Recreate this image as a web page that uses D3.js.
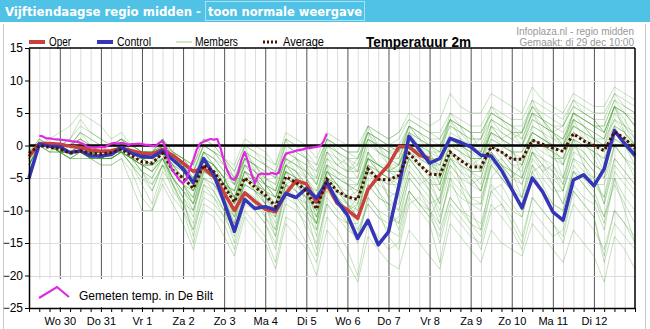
<!DOCTYPE html>
<html>
<head>
<meta charset="utf-8">
<script src="https://cdn.jsdelivr.net/npm/d3@7/dist/d3.min.js"></script>
<style>
  body { margin: 0; background: #fff; }
  svg { display: block; }
  text { font-family: "Liberation Sans", Arial, sans-serif; }
</style>
</head>
<body>
<div id="chart"></div>
<script>
// dagen (labels op middernacht), stappen van 6 uur vanaf di 29 dec 06:00
const dagLabels = ["Wo 30", "Do 31", "Vr 1", "Za 2", "Zo 3", "Ma 4", "Di 5",
                   "Wo 6", "Do 7", "Vr 8", "Za 9", "Zo 10", "Ma 11", "Di 12"];
const yTicks = [15, 10, 5, 0, -5, -10, -15, -20, -25];

// operationele run (8 dagen)
const oper = [-1.7, 0.3, 0.3, 0.2, -0.1, -0.3, -0.7, -0.9, -0.8, -0.4, -0.8, -1.2, -1.3, -0.6,
  -1.5, -2.7, -4.0, -3.5, -4.8, -7.3, -10.0, -7.3, -8.6, -9.8, -10.2, -7.4, -5.4, -5.9,
  -8.7, -6.0, -8.9, -9.9, -11.2, -6.8, -4.8, -3.0, -0.2, -0.2, -1.5, -2.0];

const control = [-5.0, 0.2, -0.1, -0.2, -1.1, -0.8, -1.6, -1.6, -1.4, -0.3,
  -1.2, -1.7, -1.8, -0.8, -2.2, -3.6, -5.7, -2.0, -4.5, -8.8,
  -13.2, -8.3, -9.7, -9.4, -9.9, -7.4, -8.0, -6.6, -8.1, -5.6,
  -8.6, -10.7, -14.3, -11.5, -15.3, -13.3, -6.3, 1.4, -0.6, -2.7,
  -2.0, 1.1, 0.5, -0.2, -1.5, -1.6, -3.8, -6.7, -9.6, -5.0,
  -7.1, -10.2, -11.5, -5.3, -4.5, -6.2, -3.6, 2.3, 0.3, -1.5];

const gemiddelde = [-1.2, 0.0, -0.3, -0.5, -1.2, -0.8, -1.2, -1.3, -1.1, -0.6,
  -1.6, -2.5, -2.7, -1.2, -3.8, -5.0, -6.6, -3.0, -4.0, -6.3,
  -8.7, -5.0, -6.4, -7.6, -9.4, -4.8, -5.7, -7.0, -9.8, -5.2,
  -7.0, -7.9, -8.3, -3.6, -5.2, -5.3, -4.6, -1.2, -2.9, -4.4,
  -4.5, -1.0, -2.3, -3.3, -3.3, -0.2, -1.0, -2.1, -2.1, 0.8,
  0.2, -0.4, -0.9, 1.8, 0.7, 0.0, -0.8, 2.1, 1.1, -0.5];

// gemeten temperatuur De Bilt, elke 2 uur vanaf uur 6
const gemetenStart = 6, gemetenStap = 2;
const gemeten = [1.5, 1.4, 1.1, 1.1, 1.0, 0.95, 0.9, 0.85, 0.8, 0.7, 0.6, 0.6, 0.4, 0.2,
  -0.2, -0.3, -0.3, -0.3, -0.2, -0.3, 0.0, 0.3, 0.4, 0.3, 0.4, 0.3, 0.1, 0.2, 0.2, 0.3,
  0.2, 0.1, 0.1, -0.1, -0.1, 0.4, 0.7, -0.5, -2.7, -3.9, -4.6, -5.4, -5.8, -5.2, -3.5,
  -2.2, -0.6, 0.3, 0.6, 0.8, 1.0, 0.9, 1.0, -0.5, -2.5, -4.0, -5.0, -5.3, -4.4, -2.3,
  -1.0, -2.5, -4.5, -5.8, -4.5, -4.3, -4.4, -4.4, -4.2, -4.4, -4.2, -2.5, -1.3, -1.1,
  -1.0, -0.8, -0.7, -0.6, -0.4, -0.4, -0.3, -0.2, -0.1, 0.6, 1.8];

// ensemble leden
const leden = [
  [-2,0,0,0, -1,0,-1,-1, -1,0,-1,-2, -2,-1,-3,-4, -5,-2,-3,-5, -7,-3,-4,-6, -7,-3,-4,-5, -7,-3,-4,-5, -6,-2,-3,-3, -3,0,-1,-2, -2,1,0,-1, -1,2,1,0, 0,3,2,1, 1,4,3,2, 1,4,3,2],
  [-4,0,-1,-1, -2,-1,-2,-2, -2,-1,-2,-4, -5,-2,-6,-9, -12,-6,-7,-10, -13,-8,-10,-12, -15,-9,-10,-12, -15,-9,-11,-13, -14,-8,-10,-11, -12,-7,-9,-10, -13,-8,-10,-11, -12,-6,-8,-10, -11,-5,-7,-9, -10,-4,-6,-8, -12,-5,-8,-10],
  [-1,0,0,0, 1,4,2,1, 0,1,-1,-1, -1,0,-2,-3, -4,-1,-2,-3, -5,-2,-3,-4, -5,-1,-2,-3, -4,0,-1,-2, -2,1,0,-1, 0,3,2,1, 1,4,3,2, 2,5,4,3, 3,6,4,3, 2,5,4,3, 3,7,5,4],
  [-3,0,0,-1, -1,-1,-2,-2, -2,-1,-3,-6, -9,-4,-6,-8, -11,-4,-5,-8, -12,-5,-6,-9, -13,-6,-7,-9, -14,-6,-8,-10, -11,-4,-6,-7, -8,-2,-4,-6, -9,-3,-5,-6, -7,-1,-3,-4, -5,0,-1,-2, -3,1,0,-1, -4,1,0,-2],
  [-2,0,0,0, 0,2,1,0, 0,1,0,-1, -1,0,-1,-2, -3,0,-1,-2, -4,0,-1,-2, -3,1,0,-1, -3,1,0,-1, -2,2,1,0, -1,2,1,0, 0,3,2,1, 1,4,3,2, 2,5,4,3, 3,6,5,4, 4,8,6,5],
  [-5,0,-1,-1, -2,-2,-2,-3, -3,-2,-4,-8, -10,-6,-9,-12, -16,-10,-11,-14, -17,-11,-13,-15, -19,-12,-14,-16, -20,-13,-15,-18, -21,-14,-16,-18, -19,-13,-15,-17, -19,-12,-14,-16, -18,-13,-15,-16, -17,-12,-14,-16, -18,-13,-15,-17, -21,-14,-16,-19],
  [-5,0,0,0, -1,-1,-2,-2, -1,0,-2,-2, -2,-1,-4,-6, -9,-3,-5,-8, -12,-7,-8,-10, -10,-6,-7,-8, -9,-5,-7,-9, -13,-9,-11,-13, -14,-7,-9,-11, -8,-2,-4,-6, -5,0,-2,-4, -8,-3,-6,-9, -10,-4,-5,-6, -6,0,-2,-4],
  [-1,1,0,0, 1,3,2,1, 0,1,0,-1, -1,1,-1,-2, -3,1,0,-2, -4,0,-1,-3, -4,1,0,-2, -5,0,-1,-2, -3,2,1,0, -1,3,2,0, -2,2,1,0, 0,4,3,2, 1,5,3,2, 0,4,3,1, 0,5,3,1],
  [-2,0,-1,-1, -1,-1,-1,-2, -2,-1,-2,-3, -4,-2,-5,-7, -8,-3,-4,-7, -10,-5,-6,-8, -11,-5,-6,-8, -12,-6,-7,-8, -9,-3,-5,-6, -6,-1,-3,-5, -7,-2,-3,-4, -5,0,-1,-3, -4,1,0,-1, -2,2,1,0, -1,3,2,0],
  [-3,0,0,-1, -1,-1,-1,-2, -1,-1,-2,-3, -3,-1,-5,-8, -14,-7,-8,-10, -15,-9,-10,-12, -16,-8,-9,-11, -13,-6,-8,-9, -10,-4,-5,-6, -5,0,-1,-2, -3,1,0,-1, -2,2,1,0, 0,4,3,2, 1,5,4,3, 2,6,5,3],
  [-2,0,0,-1, -1,-1,-1,-1, -1,0,-1,-2, -3,-1,-3,-4, -6,-2,-3,-5, -8,-4,-5,-6, -8,-3,-4,-6, -9,-4,-5,-6, -7,-2,-3,-4, -4,0,-2,-3, -4,0,-1,-2, -2,1,0,-1, -1,2,1,0, 0,3,2,1, -1,2,1,-1],
  [-1,0,1,2, 3,5,4,3, 1,2,0,-1, -1,1,-1,-2, -4,0,-1,-3, -6,-2,-3,-5, -6,-2,-3,-4, -6,-1,-3,-4, -4,1,0,-1, -2,2,1,0, -1,3,2,1, 1,5,4,3, 2,6,5,4, 3,7,5,4, 2,6,5,3],
  [-2,0,0,0, 0,1,0,-1, -1,0,-1,-2, -2,0,-2,-3, -5,-1,-2,-4, -6,-2,-3,-4, -5,0,-1,-2, -4,1,0,-1, -1,3,2,1, 2,5,4,3, 4,8,6,5, 5,8,7,6, 5,9,7,6, 5,8,7,6, 6,9,8,7],
  [-3,0,0,-1, -2,-1,-2,-2, -2,-1,-3,-5, -6,-3,-7,-9, -10,-5,-6,-8, -11,-6,-7,-9, -12,-6,-8,-10, -16,-8,-10,-12, -12,-6,-8,-9, -10,-4,-6,-8, -12,-5,-7,-9, -9,-3,-5,-7, -8,-2,-4,-6, -9,-3,-5,-7, -11,-4,-6,-8],
  [-1,1,0,0, -1,0,-1,-1, 0,1,-1,-2, -2,0,-2,-4, -7,-2,-3,-5, -8,-3,-5,-6, -7,-2,-3,-5, -8,-2,-4,-5, -5,0,-1,-2, -3,1,0,-1, -5,-1,-2,-3, -3,1,0,-1, -2,2,1,0, -3,1,0,-1, -2,2,1,0],
  [-4,0,0,-1, -1,-1,-2,-2, -1,-1,-2,-3, -4,-2,-4,-6, -7,-2,-4,-7, -11,-6,-7,-8, -10,-4,-5,-7, -11,-5,-7,-8, -8,-2,-4,-5, -7,-2,-4,-6, -6,-1,-3,-4, -6,-1,-3,-5, -3,1,0,-1, -5,0,-1,-3, -4,1,0,-2],
  [-2,0,0,0, -1,0,-1,-1, -1,0,-1,-2, -3,-1,-4,-6, -8,-3,-4,-6, -9,-4,-5,-7, -9,-4,-5,-7, -9,-4,-6,-8, -10,-5,-7,-9, -13,-7,-9,-11, -14,-8,-10,-12, -13,-7,-9,-11, -14,-8,-10,-12, -15,-9,-11,-13, -16,-10,-12,-14],
  [-1,0,0,-1, 0,1,0,-1, -1,0,-1,-1, -2,0,-2,-3, -4,0,-1,-3, -5,-1,-2,-3, -5,-1,-2,-3, -6,-1,-2,-3, -4,1,0,-1, -1,3,2,1, 0,4,3,2, -1,3,2,1, 0,4,3,2, 1,5,4,3, 3,7,6,5],
  [-3,0,0,-1, -2,-1,-2,-2, -2,-1,-2,-4, -7,-3,-6,-9, -13,-8,-9,-11, -14,-8,-9,-11, -13,-7,-8,-10, -12,-6,-8,-10, -8,-3,-4,-5, -6,-2,-3,-4, -7,-2,-4,-5, -7,-2,-3,-5, -6,-1,-3,-4, -7,-2,-3,-5, -9,-3,-5,-7],
  [-2,0,0,0, -1,0,-1,-1, -1,0,-1,-1, -1,1,-1,-2, -4,0,-1,-2, -5,-1,-2,-3, -4,0,-1,-2, -3,1,0,-1, -1,2,1,0, 1,4,3,2, 2,5,4,3, 3,6,5,4, 4,7,6,5, 4,7,6,5, 5,8,7,6],
  [-3,0,0,-1, -2,-2,-2,-3, -3,-2,-6,-10, -10,-5,-8,-10, -15,-9,-10,-12, -16,-10,-12,-14, -18,-11,-12,-15, -18,-11,-13,-16, -20,-12,-14,-16, -15,-8,-10,-12, -18,-10,-12,-14, -15,-9,-11,-13, -16,-10,-12,-14, -13,-7,-9,-11, -18,-12,-14,-16],
  [-2,0,0,-1, -1,-1,-1,-2, -1,-1,-2,-3, -3,-1,-4,-5, -6,-2,-3,-5, -9,-5,-6,-7, -8,-4,-5,-6, -10,-5,-6,-7, -6,-2,-4,-5, -5,-1,-2,-3, -3,1,0,-1, -4,0,-1,-2, -2,2,1,0, -1,3,2,1, 0,4,2,0],
  [-2,0,0,0, 0,0,-1,-1, -1,0,-1,-2, -2,-1,-3,-5, -7,-3,-4,-6, -7,-3,-5,-7, -10,-5,-6,-8, -9,-4,-5,-6, -6,-1,-3,-4, -4,0,-1,-2, -6,-1,-2,-4, -4,0,-1,-2, -3,1,0,-1, -2,2,1,0, -3,2,0,-1],
  [-3,0,0,-1, -1,-1,-1,-2, -1,-1,-2,-4, -5,-2,-5,-7, -9,-4,-5,-7, -10,-5,-7,-9, -11,-5,-6,-8, -10,-5,-7,-9, -11,-6,-8,-9, -9,-3,-5,-7, -10,-4,-6,-8, -8,-3,-5,-7, -9,-3,-5,-7, -7,-2,-4,-5, -8,-2,-4,-6],
  [-1,0,0,0, 0,2,1,0, 0,1,0,-1, -1,0,-1,-2, -3,1,0,-2, -3,1,0,-1, -3,2,1,0, -2,2,1,0, 0,3,2,1, 2,4,3,2, 1,4,3,2, 2,5,4,3, 1,5,4,2, 3,6,5,4, 2,6,5,3],
  [-4,0,0,-1, -1,-1,-1,-2, -2,-1,-2,-3, -4,-2,-5,-7, -10,-5,-6,-8, -9,-4,-6,-8, -9,-3,-5,-7, -11,-4,-6,-8, -7,-1,-3,-4, -3,1,0,-1, -4,0,-1,-2, -2,2,1,0, -5,-1,-2,-3, -6,-1,-2,-4, -5,0,-2,-3],
  [-2,0,0,-1, -1,-1,-1,-1, -1,-1,-2,-3, -3,-2,-4,-6, -7,-3,-4,-6, -8,-4,-6,-7, -9,-4,-5,-7, -10,-4,-6,-8, -8,-3,-4,-5, -5,-1,-3,-4, -5,-1,-2,-4, -4,0,-1,-3, -3,1,0,-2, -2,2,1,-1, -2,2,1,-1],
  [-3,0,0,0, -1,0,-1,-1, -1,0,-2,-2, -3,-1,-3,-5, -6,-2,-3,-5, -8,-4,-5,-7, -8,-3,-5,-6, -8,-3,-5,-6, -7,-2,-3,-4, -3,1,-1,-2, -3,1,0,-2, -2,2,0,-1, -1,2,1,0, 0,3,2,0, 0,3,2,0],
  [-2,0,0,-1, -1,0,-1,-2, -1,0,-1,-2, -3,-2,-5,-8, -10,-4,-3,-6, -9,-2,-5,-9, -14,-6,-5,-9, -12,-3,-8,-12, -9,-1,-4,-8, -10,-4,-6,-5, -9,-1,-6,-10, -13,-5,-3,-6, -8,-1,-4,-3, -5,1,-3,-6, -8,0,-2,-5],
  [-3,1,0,0, 0,1,-1,-1, -2,0,0,-1, -2,1,-2,-3, -6,-1,-3,-6, -7,0,-4,-5, -6,1,-2,-5, -8,-1,-3,-2, -4,3,0,-3, -5,0,-3,-1, -2,4,1,-2, -4,3,1,2, 0,5,2,-1, -3,4,3,2, 1,6,2,-2],
  [-4,0,-1,0, -1,-1,-1,-2, -1,-1,-3,-4, -6,-3,-4,-6, -9,-5,-7,-10, -13,-7,-9,-10, -11,-6,-9,-13, -17,-9,-11,-12, -15,-8,-10,-14, -16,-9,-8,-10, -12,-5,-9,-12, -14,-7,-6,-9, -11,-4,-7,-10, -12,-6,-8,-9, -13,-5,-10,-15],
  [-2,0,0,0, 0,2,0,0, 0,1,-1,-1, -1,1,-2,-3, -5,-2,-4,-6, -7,-2,-3,-6, -8,-3,-2,-4, -6,0,-2,-4, -3,2,-1,-3, -4,2,0,-2, -5,1,-1,-3, -2,3,1,-1, -3,3,2,0, -1,4,1,-2, -5,3,0,-3],
  [-3,0,0,-1, -1,-1,-2,-1, -1,0,-2,-3, -4,-1,-3,-6, -8,-2,-5,-7, -10,-6,-7,-8, -9,-4,-7,-10, -12,-5,-6,-9, -11,-3,-5,-8, -7,-2,-4,-7, -11,-6,-8,-9, -10,-3,-2,-4, -6,-1,-3,-6, -9,-4,-6,-8, -11,-6,-9,-12],
  [-1,0,0,-1, 0,1,0,-1, -1,0,-1,-2, -2,-1,-2,-4, -6,-1,-2,-4, -6,-1,-3,-5, -7,-2,-4,-6, -7,-2,-3,-4, -2,2,0,-2, -3,3,1,0, -1,5,3,0, -1,4,2,1, 2,6,4,2, 0,5,4,3, 2,6,4,1],
  [-4,0,0,-1, -2,-1,-1,-2, -2,-1,-2,-3, -3,-1,-6,-10, -13,-6,-8,-11, -12,-5,-7,-11, -14,-7,-8,-9, -11,-6,-8,-10, -9,-4,-7,-10, -12,-5,-7,-9, -8,-3,-5,-8, -9,-2,-5,-7, -10,-4,-3,-5, -7,0,-2,-4, -9,-2,-4,-6],
  [-2,0,0,0, -1,0,-1,-1, -1,0,-1,-2, -2,0,-3,-5, -7,-4,-5,-6, -8,-3,-4,-6, -8,-4,-6,-7, -9,-3,-4,-6, -8,-2,-3,-4, -5,1,-1,-3, -6,-1,-3,-5, -7,-1,-3,-4, -5,0,-2,-4, -6,1,-1,-3, -4,2,0,-2],
  [-3,0,0,0, -1,-1,-1,-1, -1,0,-1,-2, -2,0,-2,-3, -5,-1,-3,-5, -6,-2,-4,-6, -7,-2,-3,-4, -5,1,-1,-3, -5,1,-1,-2, -2,3,1,-1, -1,4,2,0, 1,6,4,2, 2,7,4,1, 0,5,3,1, 1,6,3,0],
  [-2,0,0,-1, -1,-1,-2,-2, -2,-1,-3,-5, -7,-3,-5,-7, -9,-3,-6,-9, -11,-5,-5,-8, -10,-3,-4,-7, -13,-7,-9,-11, -14,-9,-11,-12, -11,-5,-7,-10, -15,-9,-11,-13, -16,-10,-9,-12, -15,-8,-10,-12, -14,-7,-9,-11, -17,-10,-12,-15]
];

const W = 650, H = 329;
const MARGIN = { top: 48, right: 15, bottom: 21, left: 29 };
const N = gemiddelde.length; // 60 stappen van 6 uur

const svg = d3.select("#chart").append("svg").attr("width", W).attr("height", H);

const x = d3.scaleLinear().domain([0, N - 1]).range([MARGIN.left, W - MARGIN.right]);
const y = d3.scaleLinear().domain([-25, 15]).range([H - MARGIN.bottom, MARGIN.top]);

// titelbalk
svg.append("rect").attr("x", 0).attr("y", 0).attr("width", W).attr("height", 22).attr("fill", "#4fc2e6");
svg.append("text").attr("x", 5).attr("y", 16)
  .attr("textLength", 196).attr("lengthAdjust", "spacingAndGlyphs")
  .style("font-family", "'DejaVu Sans Condensed', 'DejaVu Sans', sans-serif")
  .style("font-weight", "bold").style("font-size", "13px").attr("fill", "#fff")
  .text("Vijftiendaagse regio midden -");
svg.append("text").attr("x", 208).attr("y", 16)
  .attr("textLength", 154).attr("lengthAdjust", "spacingAndGlyphs")
  .style("font-family", "'DejaVu Sans Condensed', 'DejaVu Sans', sans-serif")
  .style("font-weight", "bold").style("font-size", "13px").attr("fill", "#fff")
  .text("toon normale weergave");
svg.append("rect").attr("x", 205.5).attr("y", 1.5).attr("width", 159).attr("height", 19)
  .attr("fill", "none").attr("stroke", "#fff").attr("stroke-dasharray", "1,1");

// kader links/rechts
svg.append("line").attr("x1", 3.5).attr("x2", 3.5).attr("y1", 24).attr("y2", H).attr("stroke", "#c8c8c8");
svg.append("line").attr("x1", 645.5).attr("x2", 645.5).attr("y1", 24).attr("y2", H).attr("stroke", "#c8c8c8");

// grid
const grid = svg.append("g");
grid.selectAll(".vl").data(d3.range(1, N - 1)).join("line")
  .attr("x1", d => x(d) + 0.5).attr("x2", d => x(d) + 0.5)
  .attr("y1", y(15)).attr("y2", y(-25))
  .attr("stroke", d => d % 4 === 3 ? "#555" : "#dcdcdc").attr("stroke-width", 1);
grid.selectAll(".hl").data(yTicks.filter(t => t !== 15 && t !== -25)).join("line")
  .attr("x1", x(0)).attr("x2", x(N - 1))
  .attr("y1", d => Math.round(y(d)) + 0.5).attr("y2", d => Math.round(y(d)) + 0.5)
  .attr("stroke", "#dcdcdc");

const line = d3.line().x((d, i) => x(i)).y(d => y(d));

// leden
svg.append("g").selectAll("path").data(leden).join("path")
  .attr("d", line).attr("fill", "none")
  .attr("stroke", "#3e9a28").attr("stroke-opacity", 0.3).attr("stroke-width", 1);

// nullijn
svg.append("line").attr("x1", x(0)).attr("x2", x(N - 1)).attr("y1", y(0)).attr("y2", y(0))
  .attr("stroke", "#000").attr("stroke-width", 2.5);

// oper, control, gemiddelde
svg.append("path").datum(oper).attr("d", line).attr("fill", "none")
  .attr("stroke", "#c8413c").attr("stroke-width", 3.5).attr("stroke-linejoin", "round");
svg.append("path").datum(control).attr("d", line).attr("fill", "none")
  .attr("stroke", "#3535b8").attr("stroke-width", 3.5).attr("stroke-linejoin", "round");
svg.append("path").datum(gemiddelde).attr("d", line).attr("fill", "none")
  .attr("stroke", "#4a1205").attr("stroke-width", 3).attr("stroke-dasharray", "2.5,2.5");

// gemeten
const lineUur = d3.line().x((d, k) => x((gemetenStart + k * gemetenStap) / 6)).y(d => y(d));
svg.append("path").datum(gemeten).attr("d", lineUur).attr("fill", "none")
  .attr("stroke", "#e028e0").attr("stroke-width", 2.2).attr("stroke-linejoin", "round");

// legenda gemeten
svg.append("rect").attr("x", 30).attr("y", 279).attr("width", 185).attr("height", 28).attr("fill", "#fff");
svg.append("path").attr("d", "M39,298L57,287L69,297").attr("fill", "none")
  .attr("stroke", "#e028e0").attr("stroke-width", 2.2);
svg.append("text").attr("x", 79).attr("y", 299.5).style("font-size", "12.5px")
  .attr("textLength", 134).attr("lengthAdjust", "spacingAndGlyphs")
  .text("Gemeten temp. in De Bilt");

// assen
const yAxis = d3.axisLeft(y).tickValues(yTicks).tickSize(4).tickPadding(2).tickSizeOuter(0);
const gy = svg.append("g").attr("transform", `translate(${x(0)},0)`).call(yAxis);
gy.selectAll("text").style("font-size", "12px").attr("fill", "#000");

const xAxis = d3.axisBottom(x).tickValues(d3.range(0, N)).tickSize(4).tickSizeOuter(0)
  .tickFormat(i => i % 4 === 3 ? dagLabels[(i - 3) / 4] : "");
const gx = svg.append("g").attr("transform", `translate(0,${y(-25)})`).call(xAxis);
gx.selectAll("text").style("font-size", "11px").attr("fill", "#000").attr("dy", "0.9em");

svg.selectAll(".domain").attr("stroke", "#000").attr("stroke-width", 1.5);
svg.selectAll(".tick line").attr("stroke", "#000");

// boven- en rechterrand van de plot
svg.append("line").attr("x1", x(0)).attr("x2", x(N - 1)).attr("y1", y(15)).attr("y2", y(15))
  .attr("stroke", "#000").attr("stroke-width", 1.5);
svg.append("line").attr("x1", x(N - 1)).attr("x2", x(N - 1)).attr("y1", y(15)).attr("y2", y(-25))
  .attr("stroke", "#000").attr("stroke-width", 1.5);

// legenda boven
const leg = svg.append("g");
leg.append("line").attr("x1", 29).attr("x2", 45).attr("y1", 42).attr("y2", 42)
  .attr("stroke", "#c8413c").attr("stroke-width", 4);
leg.append("text").attr("x", 49).attr("y", 46).style("font-size", "12px")
  .attr("textLength", 22).attr("lengthAdjust", "spacingAndGlyphs").text("Oper");
leg.append("line").attr("x1", 97).attr("x2", 113).attr("y1", 42).attr("y2", 42)
  .attr("stroke", "#3535b8").attr("stroke-width", 4);
leg.append("text").attr("x", 117).attr("y", 46).style("font-size", "12px")
  .attr("textLength", 34).attr("lengthAdjust", "spacingAndGlyphs").text("Control");
leg.append("line").attr("x1", 176).attr("x2", 192).attr("y1", 42).attr("y2", 42)
  .attr("stroke", "#9fcf90").attr("stroke-width", 1);
leg.append("text").attr("x", 195).attr("y", 46).style("font-size", "12px")
  .attr("textLength", 43).attr("lengthAdjust", "spacingAndGlyphs").text("Members");
leg.append("line").attr("x1", 263).attr("x2", 277).attr("y1", 42).attr("y2", 42)
  .attr("stroke", "#4a1205").attr("stroke-width", 3).attr("stroke-dasharray", "2,2");
leg.append("text").attr("x", 283).attr("y", 46).style("font-size", "12px")
  .attr("textLength", 41).attr("lengthAdjust", "spacingAndGlyphs").text("Average");
leg.append("text").attr("x", 366).attr("y", 47).style("font-size", "14px").style("font-weight", "bold")
  .attr("textLength", 105).attr("lengthAdjust", "spacingAndGlyphs").text("Temperatuur 2m");
leg.append("text").attr("x", 634).attr("y", 35).attr("text-anchor", "end").style("font-size", "10px")
  .attr("fill", "#999").text("Infoplaza.nl - regio midden");
leg.append("text").attr("x", 634).attr("y", 45.5).attr("text-anchor", "end").style("font-size", "10px")
  .attr("fill", "#999").text("Gemaakt: di 29 dec 10:00");
</script>
</body>
</html>
